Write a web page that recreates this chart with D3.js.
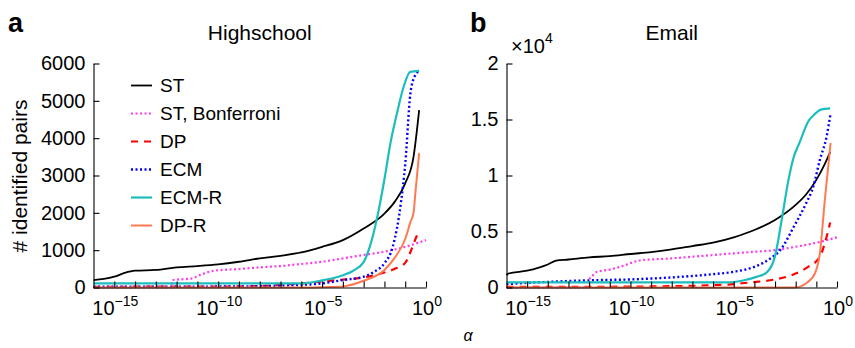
<!DOCTYPE html>
<html><head><meta charset="utf-8">
<script src="https://cdn.jsdelivr.net/npm/d3@7"></script>
<style>
body{margin:0;background:#fff}
text{font-family:"Liberation Sans",Arial,Helvetica,sans-serif;fill:#000}
</style>
</head><body><svg id="c" width="855" height="348"></svg>
<script>
// ---------- data (x = log10(alpha), y = # identified pairs) ----------
const seriesNames = ["ST","ST, Bonferroni","DP","ECM","ECM-R","DP-R"];
const decadeTicks = [-15,-14,-13,-12,-11,-10,-9,-8,-7,-6,-5,-4,-3,-2,-1,0];
const labelledDecades = [-15,-10,-5,0];

// Highschool
const hs_ST_x = [-16,-15.5,-15,-14.5,-14,-13,-12,-11,-10,-9,-8,-7,-6,-5,-4,-3,-2,-1.5,-1,-0.6,-0.33];
const hs_ST_y = [200,230,290,390,450,470,540,575,620,690,780,850,940,1090,1270,1580,1980,2300,2790,3500,4750];
const hs_BF_x = [-16,-12.25,-12.2,-11.3,-10.8,-10.2,-9,-8,-7,-6,-5,-4,-3,-2,-1,0];
const hs_BF_y = [0,0,200,240,350,450,495,540,575,630,690,780,870,960,1090,1270];
const hs_DP_x = [-16,-10,-8,-7,-6,-5,-4,-3,-2,-1.5,-1,-0.75,-0.5,-0.33];
const hs_DP_y = [20,25,40,70,110,160,210,270,400,500,660,950,1310,1540];
const hs_ECM_x = [-16,-10,-8,-7,-6,-5,-4,-3,-2.5,-2,-1.6,-1.2,-1,-0.75,-0.55,-0.33];
const hs_ECM_y = [20,25,35,50,70,110,200,290,420,650,1090,2300,3300,5200,5650,5800];
const hs_ECMR_x = [-16,-6,-5,-4,-3.5,-3,-2.7,-2.36,-2,-1.7,-1.4,-1.08,-0.76,-0.33];
const hs_ECMR_y = [110,110,190,330,450,680,1100,1850,2900,3900,4660,5370,5775,5800];
const hs_DPR_x = [-16,-5.5,-5,-4,-3,-2,-1.5,-1,-0.75,-0.6,-0.5,-0.33];
const hs_DPR_y = [0,0,10,30,180,470,800,1300,1750,2000,2600,3600];

// Email
const em_ST_x = [-16,-15.9,-15,-14.4,-14,-13.6,-13,-12,-11,-10,-9,-8,-7,-6,-5,-4,-3,-2,-1.5,-1,-0.6,-0.33];
const em_ST_y = [1100,1250,1500,1800,2050,2400,2500,2690,2800,2990,3160,3400,3700,4000,4480,5130,6030,7370,8300,9610,11000,12100];
const em_BF_x = [-16,-12.05,-12,-11.86,-11.62,-11,-10.5,-9.45,-9,-8,-7,-6,-5,-4,-3,-2,-1,0];
const em_BF_y = [0,0,700,1000,1400,1600,1850,2450,2500,2600,2750,2900,3050,3190,3340,3640,4000,4480];
const em_DP_x = [-16,-12,-10,-8,-7,-6,-5,-4.6,-3.8,-3,-2.2,-1.4,-0.83,-0.6,-0.33];
const em_DP_y = [50,60,80,120,150,220,300,380,520,720,1100,1840,2730,3900,5800];
const em_ECM_x = [-16,-15,-14,-13,-12,-11,-10,-9,-8,-7,-6,-5,-4,-3.3,-2.7,-2.1,-1.5,-1.15,-0.83,-0.5,-0.32];
const em_ECM_y = [300,420,500,580,640,680,720,800,900,1030,1190,1400,1850,2500,3450,5400,7500,9000,11400,13500,15430];
const em_ECMR_x = [-16,-5.3,-4.5,-3.9,-3.4,-3,-2.68,-2.36,-2.12,-1.8,-1.4,-1.07,-0.75,-0.33];
const em_ECMR_y = [450,450,650,950,1350,2800,6000,9500,11500,13000,14800,15500,15900,16000];
const em_DPR_x = [-16,-2.05,-1.7,-1.41,-1.07,-0.83,-0.59,-0.31];
const em_DPR_y = [0,0,150,500,1250,3040,7800,12900];

const hs_yTicks = [0,1000,2000,3000,4000,5000,6000];
const hs_yLabels = ["0","1000","2000","3000","4000","5000","6000"];
const em_yTicks = [0,5000,10000,15000,20000];
const em_yLabels = ["0","0.5","1","1.5","2"];

// ---------- styles ----------
const styles = [
  {color:"#000000", width:1.8, dash:null},
  {color:"#ff3be8", width:2.2, dash:"2,2.5"},
  {color:"#ff0000", width:2.2, dash:"7,6"},
  {color:"#0000ff", width:2.4, dash:"2,2.5"},
  {color:"#1dbdbd", width:2.2, dash:null},
  {color:"#ff7a52", width:2.0, dash:null}
];

const svg = d3.select("#c");
const Y0 = 287.5, Y1 = 63.5;

function panel(cfg){
  const x = d3.scaleLog().domain([1e-16,1]).range([cfg.x0, cfg.x1]);
  const y = d3.scaleLinear().domain([0,cfg.ymax]).range([Y0, Y1]);
  const g = svg.append("g");
  const line = d3.line().x(d=>x(Math.pow(10,d[0]))).y(d=>y(d[1])).curve(d3.curveMonotoneX);
  cfg.series.forEach((s,i)=>{
    const pts = s[0].map((v,j)=>[v,s[1][j]]);
    const p = g.append("path").attr("d",line(pts)).attr("fill","none")
      .attr("stroke",styles[i].color).attr("stroke-width",styles[i].width)
      .attr("stroke-linejoin","round");
    if(styles[i].dash) p.attr("stroke-dasharray",styles[i].dash);
  });
  // x axis
  const xa = d3.axisBottom(x).tickValues(decadeTicks.map(e=>Math.pow(10,e)))
    .tickSize(-6).tickSizeOuter(0).tickFormat("");
  const gx = g.append("g").attr("transform",`translate(0,${Y0})`).call(xa);
  gx.selectAll("path,line").attr("stroke","#000").attr("stroke-width",1.1);
  labelledDecades.forEach(e=>{
    const t = g.append("text").attr("x",x(Math.pow(10,e))+1).attr("y",315)
      .attr("text-anchor","middle").style("font-size","20px");
    t.append("tspan").text("10");
    t.append("tspan").attr("dy",-9).style("font-size","14px").text(e===0?"0":"\u2212"+(-e));
  });
  // y axis
  const ya = d3.axisLeft(y).tickValues(cfg.yTicks).tickSize(-6).tickSizeOuter(0)
    .tickPadding(8).tickFormat((d,i)=>cfg.yLabels[i]);
  const gy = g.append("g").attr("transform",`translate(${cfg.x0},0)`).call(ya);
  gy.selectAll("path,line").attr("stroke","#000").attr("stroke-width",1.1);
  gy.selectAll("text").style("font-size","20px").attr("fill","#000")
    .style("font-family",'"Liberation Sans",Arial,sans-serif');
  // title
  g.append("text").attr("x",(cfg.x0+cfg.x1)/2).attr("y",40).attr("text-anchor","middle")
    .style("font-size","21px").text(cfg.title);
  g.append("text").attr("x",cfg.letterX).attr("y",32).style("font-size","27px")
    .style("font-weight","bold").text(cfg.letter);
  return {x,y,g};
}

const left = panel({x0:93.5,x1:426,ymax:6000,yTicks:hs_yTicks,yLabels:hs_yLabels,
  title:"Highschool",letter:"a",letterX:8,
  series:[[hs_ST_x,hs_ST_y],[hs_BF_x,hs_BF_y],[hs_DP_x,hs_DP_y],[hs_ECM_x,hs_ECM_y],[hs_ECMR_x,hs_ECMR_y],[hs_DPR_x,hs_DPR_y]]});
const right = panel({x0:506.5,x1:837,ymax:20000,yTicks:em_yTicks,yLabels:em_yLabels,
  title:"Email",letter:"b",letterX:470,
  series:[[em_ST_x,em_ST_y],[em_BF_x,em_BF_y],[em_DP_x,em_DP_y],[em_ECM_x,em_ECM_y],[em_ECMR_x,em_ECMR_y],[em_DPR_x,em_DPR_y]]});

// y-axis label
svg.append("text").attr("transform","translate(27,176) rotate(-90)").attr("text-anchor","middle")
  .style("font-size","21px").text("# identified pairs");

// x10^4 multiplier
const mult = svg.append("text").attr("x",511).attr("y",53).style("font-size","20px");
mult.append("tspan").text("\u00d710");
mult.append("tspan").attr("dy",-10).style("font-size","14px").text("4");

// alpha
svg.append("text").attr("x",468).attr("y",341).attr("text-anchor","middle")
  .style("font-size","16px").style("font-style","italic").text("\u03b1");

// legend
const lg = svg.append("g");
seriesNames.forEach((n,i)=>{
  const yy = 85.5 + i*28;
  const l = lg.append("line").attr("x1",131).attr("x2",152).attr("y1",yy).attr("y2",yy)
    .attr("stroke",styles[i].color).attr("stroke-width",styles[i].width);
  if(styles[i].dash) l.attr("stroke-dasharray",styles[i].dash);
  lg.append("text").attr("x",160).attr("y",yy+6.5).style("font-size","19px").text(n);
});
</script>
</body></html>
